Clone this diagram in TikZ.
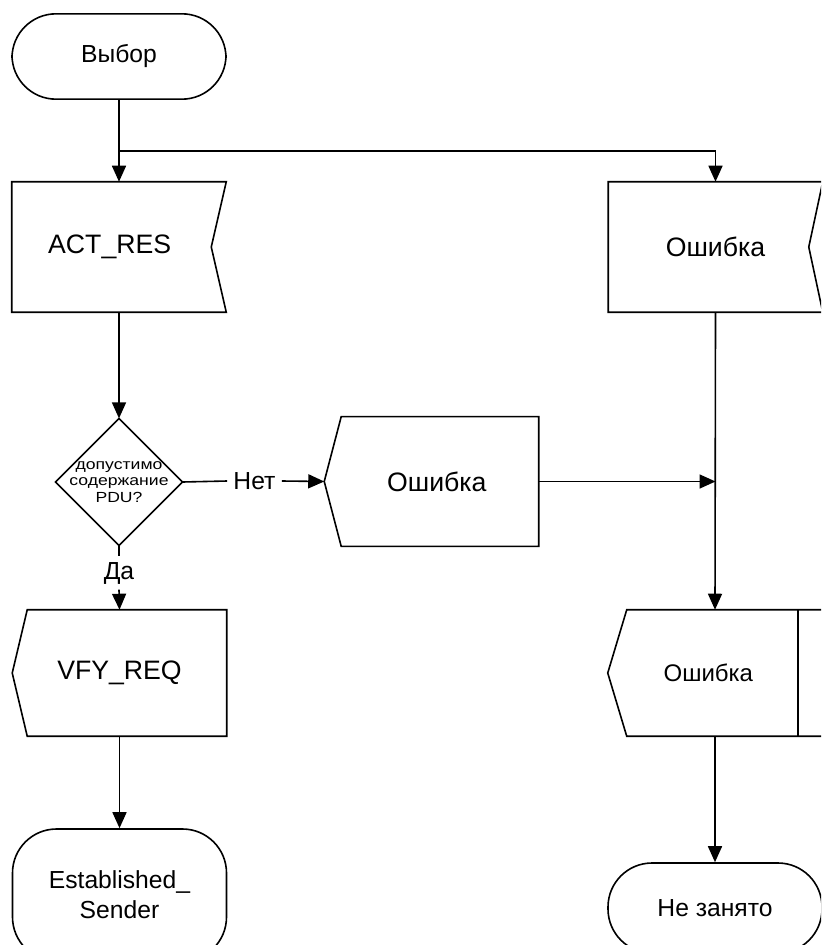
\documentclass[tikz,border=0pt]{standalone}
\usepackage{fontspec}
\setmainfont{Liberation Sans}
\newfontfamily\diafont[FakeStretch=1.2]{Liberation Sans}
\usetikzlibrary{arrows.meta,calc}
\tikzset{
  txt/.style={align=center, inner sep=0pt},
  bigtxt/.style={txt, font=\fontsize{20}{22}\selectfont},
  midtxt/.style={txt, font=\fontsize{18}{22.5}\selectfont},
  blk/.style={minimum width=160.5pt},
  term/.style={blk, draw, line width=1.2pt, rounded corners=33pt},
  ln/.style={line width=1.2pt},
  arr/.style={ln, -{Triangle[length=12pt,width=10.5pt]}},
}
\begin{document}
\begin{tikzpicture}[x=0.75pt,y=-0.75pt]
  \useasboundingbox (0,0) rectangle (821,945);
  \clip (0,0) rectangle (821,945);

  % Start state
  \node [term, midtxt, font=\fontsize{18.5}{20}\selectfont, minimum height=64pt] (vybor) at (119,56.5) {Выбор};

  % Input signals
  \node [blk, bigtxt, minimum height=97.5pt] (act) at (119,247) {ACT\_RES\hspace{14pt}};
  \node [blk, bigtxt, minimum height=97.5pt] (err1) at (715.5,247) {Ошибка};

  % Decision
  \node [txt, font=\diafont\fontsize{11}{12.5}\selectfont, minimum width=95pt, minimum height=95pt] (dia) at (119,482) {допустимо\\содержание\\PDU?};
  \node [bigtxt, font=\fontsize{18.5}{20}\selectfont, inner sep=4.5pt] (net) at (254.5,481) {Нет};
  \node [bigtxt, font=\fontsize{18.5}{20}\selectfont, inner sep=4pt] (da) at (119,573) {Да};

  % Output signals
  \node [blk, bigtxt, minimum height=97pt] (err2) at (431.5,481.5) {\hspace{8pt}Ошибка};
  \node [blk, bigtxt, minimum height=94.5pt] (vfy) at (119.5,673) {VFY\_REQ};
  \node [blk, midtxt, minimum height=94.5pt] (err3) at (715,673) {\hspace{4pt}Ошибка\hspace{14pt}};

  % Next states
  \node [term, midtxt, font=\fontsize{18.5}{22.5}\selectfont, minimum height=99pt] (est) at (119.5,895) {Established\_\\Sender};
  \node [term, midtxt, font=\fontsize{18.5}{22}\selectfont, minimum height=67.5pt] (nezan) at (715,908) {Не занято};

  % Drawing input signal outlines
  \draw [ln] (act.north west) -- (act.north east) -- ($(act.east)+(-15,0)$) -- (act.south east) -- (act.south west) -- cycle;%
  \draw [ln] (err1.north west) -- (err1.north east) -- ($(err1.east)+(-14,0)$) -- (err1.south east) -- (err1.south west) -- cycle;%

  % Drawing decision outline
  \draw [ln] (dia.north) -- (dia.east) -- (dia.south) -- (dia.west) -- cycle;%

  % Drawing output signal outlines
  \draw [ln] ($(err2.north west)+(17,0)$) -- (err2.north east) -- (err2.south east) -- ($(err2.south west)+(17,0)$) -- (err2.west) -- cycle;%
  \draw [ln] ($(vfy.north west)+(15,0)$) -- (vfy.north east) -- (vfy.south east) -- ($(vfy.south west)+(15,0)$) -- (vfy.west) -- cycle;%
  \draw [ln] ($(err3.north west)+(19,0)$) -- (err3.north east) -- (err3.south east) -- ($(err3.south west)+(19,0)$) -- (err3.west) -- cycle;%
  \draw [ln] ($(err3.north east)+(-24,0)$) -- ($(err3.south east)+(-24,0)$);%

  % Drawing connectors
  \coordinate (split) at (119,151);
  \draw [arr] (vybor) -- (act);%
  \draw [arr] (split) -| (err1.north);%
  \draw [arr] (act) -- (dia.north);%
  \draw [ln] (dia.east) -- (net.west);%
  \draw [arr] (net.east) -- (err2.west);%
  \draw [arr] (err2.east) -- (err2.east -| err1.south);%
  \draw [ln] (dia.south) -- (da.north);%
  \draw [arr] (da.south) -- (vfy.north);%
  \draw [arr] (err1.south) -- (err3.north);%
  \draw [arr] (vfy) -- (est);%
  \draw [arr] (err3) -- (nezan);%
\end{tikzpicture}
\end{document}
